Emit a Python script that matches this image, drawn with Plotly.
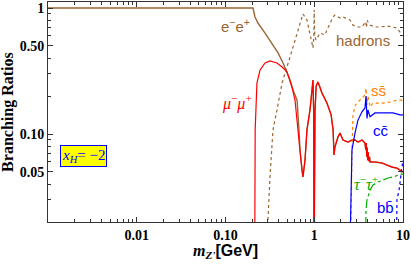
import plotly.graph_objects as go

# ---------------- data ----------------
# e- e+  (brown solid)
ee_x = [0.001, 0.204, 0.215, 0.232, 0.279, 0.334, 0.391, 0.445, 0.493, 0.533, 0.577, 0.640,
        0.673, 0.690, 0.728, 0.746]
ee_y = [1.0, 1.0, 0.848, 0.760, 0.633, 0.527, 0.440, 0.366, 0.311, 0.268, 0.223, 0.186,
        0.108, 0.075, 0.052, 0.0456]

# mu- mu+  (red solid)
mu_x = [0.211, 0.213, 0.216, 0.226, 0.245, 0.279, 0.317, 0.380, 0.434, 0.493, 0.561, 0.607,
        0.656, 0.690, 0.728, 0.746, 0.787, 0.828, 0.895, 0.944, 0.968, 0.985, 0.995, 1.0,
        1.005, 1.02, 1.05, 1.10, 1.16, 1.22, 1.39, 1.55, 1.63, 1.67, 1.71, 1.85, 1.95, 2.11,
        2.40, 2.66, 2.88, 3.11, 3.45, 3.73, 3.80, 3.85, 3.90, 3.95, 4.0, 4.05, 4.1, 4.2,
        4.25, 4.84, 5.80, 6.61, 7.52, 8.55, 9.25, 10.0]
mu_y = [0.001, 0.05, 0.108, 0.254, 0.322, 0.366, 0.380, 0.366, 0.340, 0.311, 0.236, 0.186,
        0.114, 0.0746, 0.0518, 0.0456, 0.0622, 0.108, 0.155, 0.245, 0.268, 0.15, 0.03, 0.001,
        0.03, 0.15, 0.24, 0.259, 0.235, 0.212, 0.176, 0.142, 0.108, 0.0682, 0.0789, 0.0947,
        0.102, 0.0896, 0.0864, 0.0896, 0.0896, 0.0864, 0.0896, 0.0848, 0.075, 0.085, 0.066,
        0.078, 0.062, 0.072, 0.061, 0.066, 0.060, 0.060, 0.0589, 0.0568, 0.0547, 0.0537,
        0.0518, 0.0499]

# hadrons  (brown dotted)
had_x = [0.293, 0.301, 0.317, 0.343, 0.380, 0.434, 0.493, 0.561, 0.640, 0.728, 0.746, 0.828,
         0.895, 0.968, 0.990, 0.998, 1.012, 1.047, 1.16, 1.32, 1.39, 1.63, 1.71, 1.95, 2.11,
         2.53, 2.73, 3.03, 3.45, 3.73, 3.80, 3.87, 3.95, 4.03, 4.25, 4.84, 5.51, 6.61, 7.52,
         8.55, 9.25, 10.0]
had_y = [0.005, 0.0208, 0.0456, 0.108, 0.155, 0.254, 0.340, 0.464, 0.633, 0.848, 0.896, 0.803,
         0.633, 0.482, 0.60, 0.97, 0.60, 0.557, 0.633, 0.611, 0.669, 0.848, 0.880, 0.833, 0.848,
         0.803, 0.733, 0.707, 0.707, 0.760, 0.78, 0.70, 0.80, 0.774, 0.733, 0.707, 0.707,
         0.720, 0.707, 0.694, 0.645, 0.656]

# s sbar  (orange dotted)
ss_x = [2.53, 2.60, 2.66, 2.73, 2.88, 3.03, 3.27, 3.54, 3.73, 3.83, 3.93, 4.03, 4.25, 4.59,
        5.09, 5.96, 7.14, 8.55, 10.0]
ss_y = [0.005, 0.0409, 0.075, 0.14, 0.167, 0.176, 0.186, 0.197, 0.204, 0.23, 0.17, 0.20,
        0.164, 0.176, 0.176, 0.176, 0.179, 0.186, 0.186]

# c cbar  (blue solid)
cc_x = [2.46, 2.60, 2.66, 2.88, 3.11, 3.45, 3.73, 3.83, 3.93, 4.03, 4.25, 4.84, 5.51, 6.61,
        7.71, 9.25, 10.0]
cc_y = [0.005, 0.041, 0.0746, 0.102, 0.129, 0.150, 0.161, 0.20, 0.133, 0.155, 0.137, 0.147,
        0.147, 0.147, 0.147, 0.142, 0.142]

# b bbar  (blue dotted)
bb_x = [8.34, 8.55, 9.02, 9.25, 9.75, 10.0]
bb_y = [0.005, 0.030, 0.0359, 0.0431, 0.0547, 0.0622]

# tau- tau+  (green dash-dot)
tau_x = [3.73, 3.83, 3.93, 4.25, 4.59, 5.23, 5.96, 6.78, 7.71, 8.79, 9.5, 10.0]
tau_y = [0.005, 0.0249, 0.030, 0.0359, 0.0394, 0.0416, 0.0431, 0.0448, 0.0456, 0.0473,
         0.0481, 0.048]

x_tick_vals = [0.01, 0.1, 1, 10]
x_tick_text = ["0.01", "0.10", "1", "10"]
y_tick_vals = [0.05, 0.1, 0.5, 1]
y_tick_text = ["0.05", "0.10", "0.50", "1"]

# ---------------- styling ----------------
BROWN = "rgb(153,102,51)"
RED = "rgb(255,0,0)"
ORANGE = "rgb(255,128,0)"
BLUE = "rgb(0,0,255)"
GREEN = "rgb(0,170,0)"
SERIF = "Liberation Serif"
SANS = "Liberation Sans"

fig = go.Figure()


def add(x, y, color, dash="solid", width=1.2):
    fig.add_trace(go.Scatter(x=x, y=y, mode="lines",
                             line=dict(color=color, width=width, dash=dash),
                             hoverinfo="skip", showlegend=False, cliponaxis=True))


add(had_x, had_y, BROWN, "dot", 1.2)
add(ee_x + mu_x[15:], ee_y + mu_y[15:], BROWN, "solid", 1.4)
add(mu_x, mu_y, RED, "solid", 1.2)
add(ss_x, ss_y, ORANGE, "dot", 1.2)
add(cc_x, cc_y, BLUE, "solid", 1.2)
add(bb_x, bb_y, BLUE, "dot", 1.2)
add(tau_x, tau_y, GREEN, "dashdot", 1.2)

minor_x = [m * 10 ** k for k in range(-3, 1) for m in range(2, 10)]
minor_y = [m * 10 ** k for k in range(-2, 0) for m in range(2, 10) if m != 5]

axis_common = dict(showline=True, linecolor="#333", linewidth=1, mirror="ticks",
                   ticks="inside", ticklen=5, tickcolor="#333", tickwidth=1,
                   showgrid=False, zeroline=False, automargin=False,
                   tickfont=dict(family=SERIF, size=14, color="black", weight="bold"))

fig.update_xaxes(type="log", range=[-3, 1], tickmode="array",
                 tickvals=x_tick_vals, ticktext=x_tick_text,
                 minor=dict(tickmode="array", tickvals=minor_x, ticks="inside",
                            ticklen=3, tickcolor="#333", showgrid=False),
                 **axis_common)
fig.update_yaxes(type="log", range=[-1.698, 0.0476], tickmode="array",
                 tickvals=y_tick_vals, ticktext=y_tick_text,
                 minor=dict(tickmode="array", tickvals=minor_y, ticks="inside",
                            ticklen=3, tickcolor="#333", showgrid=False),
                 **axis_common)

ann = []


def label(text, x, y, color, family=SANS, size=15):
    ann.append(dict(text=text, x=x, y=y, xref="paper", yref="paper", showarrow=False,
                    xanchor="center", yanchor="middle",
                    font=dict(family=family, size=size, color=color)))


label("e<sup>−</sup>e<sup>+</sup>", 0.527, 0.895, BROWN)
label("hadrons", 0.887, 0.823, BROWN)
label("<i>μ</i><sup>−</sup><i>μ</i><sup>+</sup>", 0.532, 0.545, RED, family=SERIF, size=16)
label("ss\u0304", 0.932, 0.60, ORANGE)
label("cc\u0304", 0.938, 0.418, BLUE)
label("<i>τ</i><sup>−</sup><i>τ</i><sup>+</sup>", 0.896, 0.177, GREEN, family=SERIF, size=16)
label("bb\u0304", 0.952, 0.068, BLUE)

ann.append(dict(text="<i>x<sub>H</sub></i>= −2", x=0.0986, y=0.298, xref="paper",
                yref="paper", showarrow=False, xanchor="center", yanchor="middle",
                bgcolor="rgb(255,255,0)", bordercolor=BLUE, borderwidth=1, borderpad=1,
                font=dict(family=SERIF, size=15, color=BLUE)))

ann.append(dict(text="<b><i>m</i><sub><i>Z'</i></sub></b><span style='font-family:Liberation Sans'><b>[GeV]</b></span>",
                x=0.5, y=-0.132, xref="paper", yref="paper", showarrow=False,
                xanchor="center", yanchor="middle",
                font=dict(family=SERIF, size=16, color="black")))
ann.append(dict(text="<b>Branching Ratios</b>", x=-0.113, y=0.5, xref="paper",
                yref="paper", showarrow=False, textangle=-90,
                xanchor="center", yanchor="middle",
                font=dict(family=SERIF, size=16, color="black")))

fig.update_layout(width=411, height=264, margin=dict(l=48, r=8, t=2, b=42),
                  plot_bgcolor="white", paper_bgcolor="white", annotations=ann,
                  showlegend=False)

fig.write_html("out.html", config={"displayModeBar": False},
               post_script="document.body.style.margin='0';document.body.style.overflow='hidden';")
